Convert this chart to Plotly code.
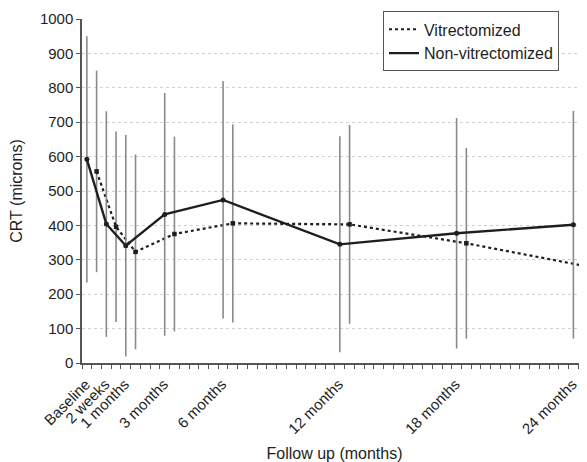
import numpy as np
import plotly.graph_objects as go

# Data
labels = ["Baseline", "2 weeks", "1 months", "3 months", "6 months",
          "12 months", "18 months", "24 months"]
label_pos = [0, 1, 2, 4, 7, 13, 19, 25]          # category positions on the axis

nonvit_mean = [592, 404, 341, 432, 474, 345, 377, 402]
nonvit_sd = [358, 328, 322, 353, 345, 314, 335, 331]

vit_mean = [557, 396, 323, 375, 406, 403, 348, 283]
vit_sd = [293, 277, 283, 283, 288, 289, 277, 270]

vit_offset = 0.5   # vitrectomized series plotted half a category to the right

x_nonvit = list(label_pos)
x_vit = [p + vit_offset for p in label_pos]

font_family = "Liberation Sans, Arial, sans-serif"
dark = "#1e1e1e"
bar_color = "#8a8a8a"

fig = go.Figure()

fig.add_trace(go.Scatter(
    x=x_vit, y=vit_mean, mode="lines+markers", showlegend=False,
    line=dict(color=dark, width=2.2, dash="dot"),
    marker=dict(symbol="square", size=4.5, color=dark),
    error_y=dict(type="data", array=vit_sd, visible=True, width=0,
                 thickness=1.6, color=bar_color),
))
fig.add_trace(go.Scatter(
    x=x_nonvit, y=nonvit_mean, mode="lines+markers", showlegend=False,
    line=dict(color=dark, width=2.4),
    marker=dict(symbol="circle", size=5, color=dark),
    error_y=dict(type="data", array=nonvit_sd, visible=True, width=0,
                 thickness=1.6, color=bar_color),
))

# legend entries (lines only, as in the reference)
fig.add_trace(go.Scatter(x=[None], y=[None], mode="lines", name="Vitrectomized",
                         line=dict(color=dark, width=2, dash="dot")))
fig.add_trace(go.Scatter(x=[None], y=[None], mode="lines", name="Non-vitrectomized",
                         line=dict(color=dark, width=2.4)))

minor_ticks = list(np.arange(-0.25, 25.8, 0.5))

# the page body adds an 8px offset, so the figure is sized to fill the window
fig.update_layout(
    width=579, height=454,
    margin=dict(l=74, r=0, t=11, b=99),
    paper_bgcolor="white", plot_bgcolor="white",
    font=dict(family=font_family, size=15, color=dark),
    legend=dict(x=0.596, y=1.022, xanchor="left", yanchor="top",
                bgcolor="white", bordercolor="#555555", borderwidth=1,
                font=dict(size=16, color=dark), itemwidth=30,
                tracegroupgap=0),
    showlegend=True,
)

fig.update_xaxes(
    automargin=False,
    range=[-0.25, 25.7],
    tickmode="array", tickvals=label_pos, ticktext=labels,
    tickangle=-45, ticks="", ticklen=0, ticklabelshift=-1, ticklabelstandoff=5,
    tickfont=dict(size=15, color=dark),
    showgrid=False, zeroline=False,
    showline=True, linecolor="#555555", linewidth=1.5,
    minor=dict(tickmode="array", tickvals=minor_ticks, ticks="outside",
               ticklen=4, tickcolor="#555555", tickwidth=1, showgrid=False),
    title=dict(text="Follow up (months)", font=dict(size=16, color=dark), standoff=13),
)

fig.update_yaxes(
    automargin=False,
    range=[0, 1000], tickmode="linear", tick0=0, dtick=100,
    ticks="outside", ticklen=4, tickcolor="#555555",
    tickfont=dict(size=15, color=dark),
    showgrid=True, gridcolor="#cfcfcf", griddash="dot", gridwidth=1,
    zeroline=False,
    showline=True, linecolor="#555555", linewidth=1.5,
    title=dict(text="CRT (microns)", font=dict(size=16, color=dark), standoff=26),
)

fig.write_html("out.html")
